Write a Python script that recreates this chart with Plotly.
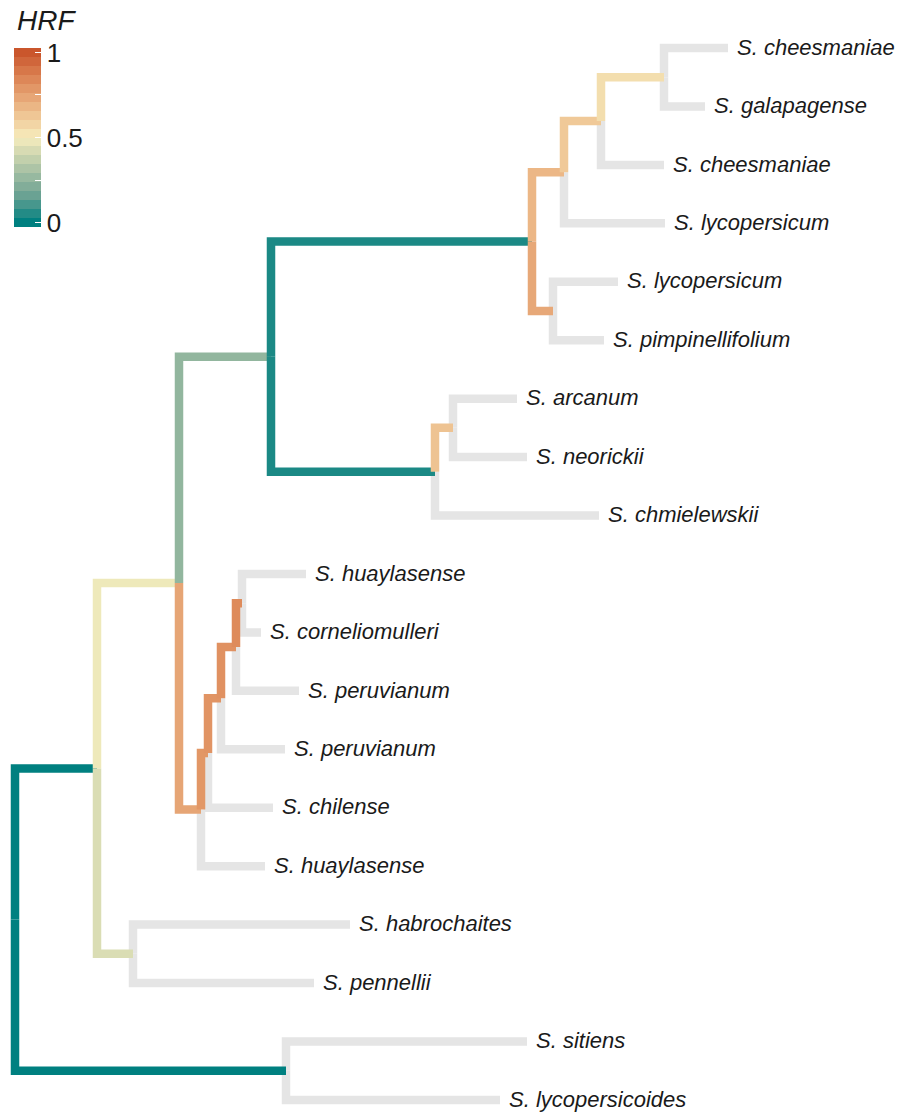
import numpy as np
import plotly.graph_objects as go

# ---- tree data: each edge listed parent -> child, children of a node in top-to-bottom order
edge_parent = [
    "root", "root",
    "A", "A",
    "B", "B",
    "D", "D",
    "J", "J",
    "N", "N",
    "O", "O",
    "P", "P",
    "M", "M",
    "K", "K",
    "L", "L",
    "E", "E",
    "F", "F",
    "G", "G",
    "H", "H",
    "I", "I",
    "C", "C",
    "S", "S",
]
edge_child = [
    "A", "S",
    "B", "C",
    "D", "E",
    "J", "K",
    "N", "M",
    "O", "lycopersicum_1",
    "P", "cheesmaniae_2",
    "cheesmaniae_1", "galapagense",
    "lycopersicum_2", "pimpinellifolium",
    "L", "chmielewskii",
    "arcanum", "neorickii",
    "F", "huaylasense_2",
    "G", "chilense",
    "H", "peruvianum_2",
    "I", "peruvianum_1",
    "huaylasense_1", "corneliomulleri",
    "habrochaites", "pennellii",
    "sitiens", "lycopersicoides",
]
branch_length = [
    0.0082, 0.0271,
    0.0082, 0.0036,
    0.0092, 0.0022,
    0.0261, 0.0164,
    0.0032, 0.0021,
    0.0037, 0.0101,
    0.0063, 0.0063,
    0.0064, 0.0041,
    0.0065, 0.0051,
    0.0018, 0.0164,
    0.0064, 0.0074,
    0.0007, 0.0064,
    0.0013, 0.0065,
    0.0015, 0.0064,
    0.0006, 0.0063,
    0.0064, 0.0019,
    0.0217, 0.0181,
    0.0241, 0.0214,
]
# HRF per branch (None = terminal branch, no value)
hrf = [
    0.00, 0.00,
    0.48, 0.43,
    0.25, 0.74,
    0.04, 0.04,
    0.68, 0.73,
    0.62, None,
    0.55, None,
    None, None,
    None, None,
    0.64, None,
    None, None,
    0.79, None,
    0.80, None,
    0.81, None,
    0.83, None,
    None, None,
    None, None,
    None, None,
]

tip_ids = [
    "cheesmaniae_1", "galapagense", "cheesmaniae_2", "lycopersicum_1", "lycopersicum_2",
    "pimpinellifolium", "arcanum", "neorickii", "chmielewskii", "huaylasense_1",
    "corneliomulleri", "peruvianum_1", "peruvianum_2", "chilense", "huaylasense_2",
    "habrochaites", "pennellii", "sitiens", "lycopersicoides",
]
tip_labels = [
    "S. cheesmaniae", "S. galapagense", "S. cheesmaniae", "S. lycopersicum", "S. lycopersicum",
    "S. pimpinellifolium", "S. arcanum", "S. neorickii", "S. chmielewskii", "S. huaylasense",
    "S. corneliomulleri", "S. peruvianum", "S. peruvianum", "S. chilense", "S. huaylasense",
    "S. habrochaites", "S. pennellii", "S. sitiens", "S. lycopersicoides",
]

# Geyser palette (teal -> cream -> rust)
geyser = ["#008080", "#70a494", "#b4c8a8", "#f6edbd", "#edbb8a", "#de8a5a", "#ca562c"]
na_grey = "#e5e5e5"
font_family = "Liberation Sans, Arial, sans-serif"
text_color = "#1a1a1a"


def hex_rgb(h):
    return np.array([int(h[i:i + 2], 16) for i in (1, 3, 5)], dtype=float)


def scale_color(v):
    pos = np.linspace(0, 1, len(geyser))
    rgb = np.array([hex_rgb(c) for c in geyser])
    out = [np.interp(v, pos, rgb[:, k]) for k in range(3)]
    return "rgb({:.0f},{:.0f},{:.0f})".format(*out)


# ---- rectangular layout: x = distance from root, y = tip order (1 = top)
children = {}
for p, c in zip(edge_parent, edge_child):
    children.setdefault(p, []).append(c)
blen = dict(zip(edge_child, branch_length))

xpos = {"root": 0.0}
ypos = {}


def place(node):
    for c in children.get(node, []):
        xpos[c] = xpos[node] + blen[c]
        place(c)
    if node in children:
        ypos[node] = float(np.mean([ypos[c] for c in children[node]]))


for i, t in enumerate(tip_ids):
    ypos[t] = float(i + 1)
place("root")

fig = go.Figure()

# grey terminal branches first, coloured branches on top
order = [i for i, v in enumerate(hrf) if v is None] + [i for i, v in enumerate(hrf) if v is not None]
for i in order:
    p, c = edge_parent[i], edge_child[i]
    col = na_grey if hrf[i] is None else scale_color(hrf[i])
    fig.add_trace(go.Scatter(
        x=[xpos[p], xpos[p], xpos[c]],
        y=[ypos[p], ypos[c], ypos[c]],
        mode="lines",
        line=dict(color=col, width=8.5),
        hoverinfo="skip",
        showlegend=False,
    ))

# tip labels
label_gap = 0.0009
fig.add_trace(go.Scatter(
    x=[xpos[t] + label_gap for t in tip_ids],
    y=[ypos[t] + 0.02 for t in tip_ids],
    mode="text",
    text=["<i>%s</i>" % s for s in tip_labels],
    textposition="middle right",
    textfont=dict(family=font_family, size=22, color=text_color),
    hoverinfo="skip",
    showlegend=False,
))

# colour bar: 20 stepped bins as in a binned gradient guide
nbin = 20
bin_vals = np.linspace(0, 1, nbin)
steps = []
for k, v in enumerate(bin_vals):
    col = scale_color(v)
    steps.append([k / nbin, col])
    steps.append([(k + 1) / nbin, col])
half = 0.5 / (nbin - 1)
W, H = 903, 1112
fig.add_trace(go.Scatter(
    x=[None], y=[None],
    mode="markers",
    marker=dict(
        color=[0.0], colorscale=steps, cmin=-half, cmax=1 + half, size=0,
        showscale=True,
        colorbar=dict(
            x=14 / W, xanchor="left", xpad=0,
            y=1 - 48 / H, yanchor="top", ypad=0,
            len=179, lenmode="pixels", thickness=27, thicknessmode="pixels",
            outlinewidth=0,
            tickvals=[0, 0.25, 0.5, 0.75, 1], ticktext=["0", "", "0.5", "", "1"],
            ticks="inside", ticklen=6, tickwidth=1.2, tickcolor="white",
            tickfont=dict(family=font_family, size=26, color=text_color),
        ),
    ),
    hoverinfo="skip",
    showlegend=False,
))

# legend title above the bar
fig.add_annotation(
    text="<i>HRF</i>", xref="paper", yref="paper",
    x=15 / W, y=1 - 20 / H, xanchor="left", yanchor="middle",
    showarrow=False, font=dict(family=font_family, size=28, color=text_color),
)

px_per_unit = 10000.0
root_px = 15.0
top_px, step_px = 48.0, 58.44
fig.update_layout(
    width=W, height=H,
    margin=dict(l=0, r=0, t=0, b=0),
    paper_bgcolor="white", plot_bgcolor="white",
    xaxis=dict(range=[-root_px / px_per_unit, (W - root_px) / px_per_unit],
               visible=False, fixedrange=True),
    yaxis=dict(range=[1 + (H - top_px) / step_px, 1 - top_px / step_px],
               visible=False, fixedrange=True),
)

fig.write_html("out.html")
